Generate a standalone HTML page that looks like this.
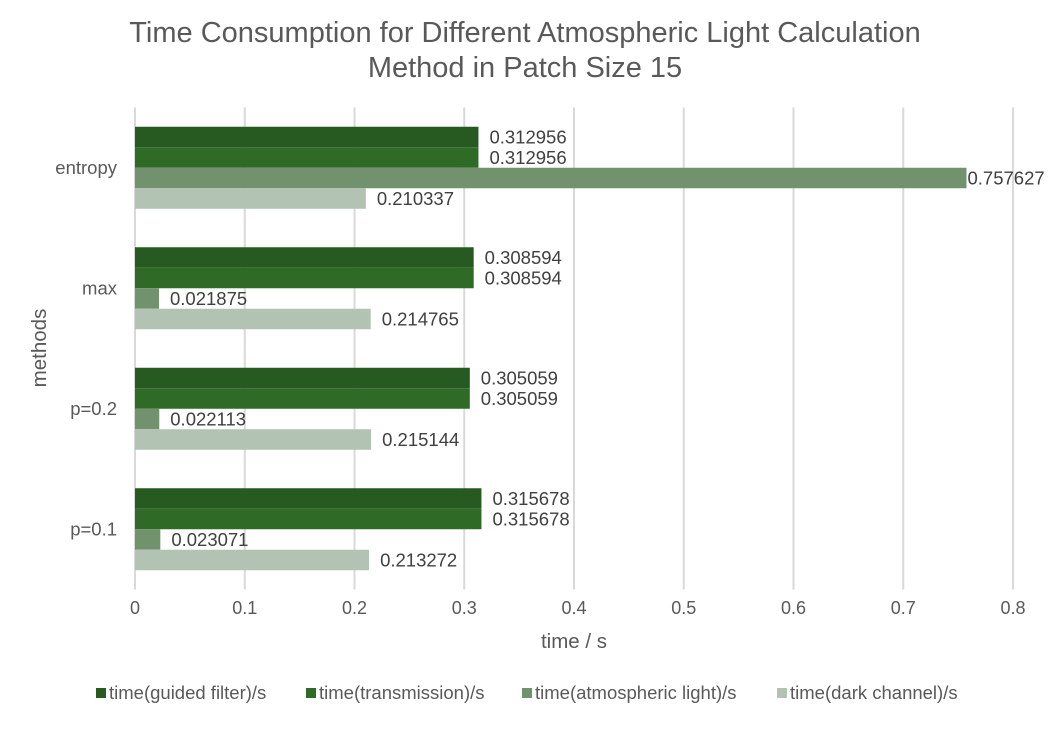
<!DOCTYPE html>
<html><head><meta charset="utf-8"><style>
body{margin:0;background:#fff;}
svg{font-family:"Liberation Sans",Arial,sans-serif;}
</style></head><body>
<svg width="1050" height="724">
<g id="root"></g>
</svg>
<script>
const categories=["entropy","max","p=0.2","p=0.1"];
const seriesNames=["time(guided filter)/s","time(transmission)/s","time(atmospheric light)/s","time(dark channel)/s"];
const guided=[0.312956,0.308594,0.305059,0.315678];
const transmission=[0.312956,0.308594,0.305059,0.315678];
const atmospheric=[0.757627,0.021875,0.022113,0.023071];
const dark=[0.210337,0.214765,0.215144,0.213272];
const ticks=[0,0.1,0.2,0.3,0.4,0.5,0.6,0.7,0.8];
const colors=["#275a20","#2f6b27","#71926d","#b2c2b3"];
const series=[guided,transmission,atmospheric,dark];
const NS="http://www.w3.org/2000/svg";
const root=document.getElementById('root');
const x0=135,x1=1013,yTop=107.5,yBottom=589.5;
const xs=v=>x0+v/0.8*(x1-x0);
const band=(yBottom-yTop)/categories.length;
function el(t,a,txt){const e=document.createElementNS(NS,t);for(const k in a)e.setAttribute(k,a[k]);if(txt!=null)e.textContent=txt;root.appendChild(e);return e;}
let t=el('text',{x:525,y:42,'text-anchor':'middle','font-size':29,fill:'#595959'},'Time Consumption for Different Atmospheric Light Calculation');


t=el('text',{x:525,y:77,'text-anchor':'middle','font-size':29,fill:'#595959'},'Method in Patch Size 15');


ticks.forEach(v=>{
 const g=el('line',{x1:xs(v),x2:xs(v),y1:yTop,y2:yBottom,stroke:'#d9d9d9','stroke-width':2});
 
 
 const l=el('text',{x:xs(v),y:614,'text-anchor':'middle','font-size':18,fill:'#595959'},String(v));
 
 
});
const barH=20.5;
categories.forEach((c,i)=>{
 const gy=yTop+i*band+(band-4*barH)/2;
 const cl=el('text',{x:117,y:yTop+i*band+band/2+6,'text-anchor':'end','font-size':18.5,fill:'#595959'},c);
 
 
 series.forEach((s,j)=>{
  const y=gy+j*barH;
  const r=el('rect',{x:x0,y:y,width:xs(s[i])-x0,height:barH,fill:colors[j]});
  
  
  const lab=el('text',{x:xs(s[i])+(j==2&&i==0?1:11),y:y+barH/2+6.5,'font-size':18.5,fill:'#404040'},String(s[i]));
  
  
 });
});
t=el('text',{x:574,y:648,'text-anchor':'middle','font-size':20.5,fill:'#595959'},'time / s');


t=el('text',{x:0,y:0,'text-anchor':'middle','font-size':20.5,fill:'#595959',transform:'translate(46,348) rotate(-90)'},'methods');


const legX=[97,307,523,778];
seriesNames.forEach((n,j)=>{
 const r=el('rect',{x:legX[j]-1,y:688,width:10,height:10,fill:colors[j]});
 
 
 const l=el('text',{x:legX[j]+12,y:699,'font-size':18.5,fill:'#595959'},n);
 
 
});
</script>
</body></html>
